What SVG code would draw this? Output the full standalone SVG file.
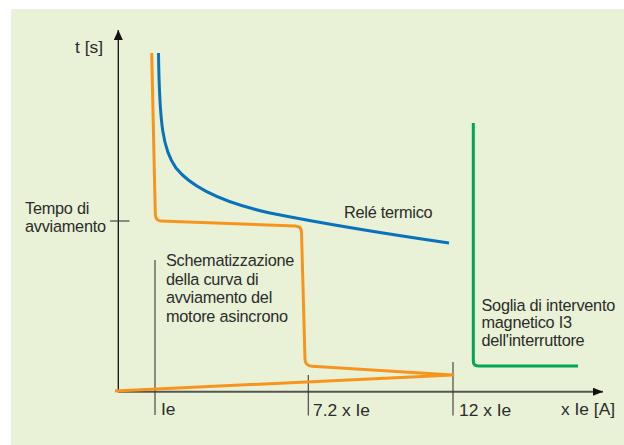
<svg xmlns="http://www.w3.org/2000/svg" width="624" height="445" viewBox="0 0 624 445">
<style>
text{font-family:"Liberation Sans",Arial,sans-serif;fill:#2b2b2b}
.lbl{font-size:16.3px;letter-spacing:-0.25px}
.ax{font-size:17.4px}
.tick{stroke:#3a3a3a;stroke-width:1.1;fill:none}
.curve{fill:none;stroke-width:3;stroke-linejoin:round;stroke-linecap:butt}
</style>
<defs>
<marker id="arrowK" markerWidth="10" markerHeight="10" refX="10" refY="4.5" orient="auto" markerUnits="userSpaceOnUse">
<path d="M0,0 L10,4.5 L0,9 Z" fill="#111"/>
</marker>
<marker id="arrowG" markerWidth="10" markerHeight="10" refX="10" refY="4" orient="auto" markerUnits="userSpaceOnUse">
<path d="M0,0 L10,4 L0,8 Z" fill="#111"/>
</marker>
</defs>
<rect x="11" y="9" width="613" height="436" fill="#e9f2d6"/>
<g id="axes">
<line x1="118.3" y1="392" x2="118.3" y2="30" stroke="#111" stroke-width="1.3" marker-end="url(#arrowK)"/>
<line x1="118" y1="391.7" x2="603" y2="391.7" stroke="#555" stroke-width="2" marker-end="url(#arrowG)"/>
<text class="ax" x="103" y="53" text-anchor="end">t [s]</text>
<text class="ax" x="561" y="415">x Ie [A]</text>
</g>
<g id="ticks">
<line class="tick" x1="110" y1="221" x2="129.5" y2="221"/>
<line class="tick" x1="155" y1="260" x2="155" y2="415"/>
<line class="tick" x1="308.3" y1="375" x2="308.3" y2="415.5"/>
<line class="tick" x1="453" y1="362" x2="453" y2="415.5"/>
<text class="lbl" x="25" y="214">Tempo di</text>
<text class="lbl" x="25" y="232">avviamento</text>
<text class="ax" x="161" y="415">Ie</text>
<text class="ax" x="313" y="415.5">7.2 x Ie</text>
<text class="ax" x="459" y="415.5">12 x Ie</text>
</g>
<g id="connectors">
<path id="rele" class="curve" stroke="#0a72bb" d="M158.5,53 C159.5,125 163,150 176,168 C192,188 225,203 270,213 C320,223 380,233 449,243"/>
<path id="avviamento" class="curve" stroke="#f7941d" d="M151.7,53 L155.3,214.5 Q155.7,220.8 161,220.9 L295.5,226 Q301.3,226.4 301.5,232 L305,359.5 Q305.4,366 312,366.3 L453,375 L115,391"/>
<path id="soglia" class="curve" stroke="#00a651" d="M473.3,123 L473.3,361 Q473.3,366 478.5,366 L578,366"/>
</g>
<g id="labels">
<text class="lbl" x="344" y="218">Relé termico</text>
<text class="lbl" x="166" y="266">Schematizzazione</text>
<text class="lbl" x="166" y="284.7">della curva di</text>
<text class="lbl" x="166" y="303.3">avviamento del</text>
<text class="lbl" x="166" y="322">motore asincrono</text>
<text class="lbl" x="481.5" y="311">Soglia di intervento</text>
<text class="lbl" x="481.5" y="328.3">magnetico I3</text>
<text class="lbl" x="481.5" y="345.5">dell'interruttore</text>
</g>
</svg>
